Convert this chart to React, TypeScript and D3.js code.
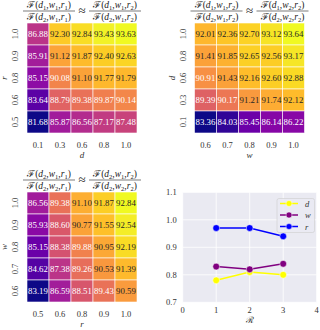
import React from 'react'
import * as d3 from 'd3'

// heatmap 1: rows r, cols d
const d1Cols = ['0.1', '0.3', '0.6', '0.8', '1.0']
const r1Rows = ['1.0', '0.9', '0.8', '0.6', '0.5']
const heat1 = [
  [86.88, 92.30, 92.84, 93.43, 93.63],
  [85.91, 91.12, 91.87, 92.40, 92.63],
  [85.15, 90.08, 91.10, 91.77, 91.79],
  [83.64, 88.79, 89.38, 89.87, 90.14],
  [81.68, 85.87, 86.56, 87.17, 87.48],
]
// heatmap 2: rows d, cols w
const w2Cols = ['0.6', '0.7', '0.8', '0.9', '1.0']
const d2Rows = ['1.0', '0.8', '0.6', '0.3', '0.1']
const heat2 = [
  [92.01, 92.36, 92.70, 93.12, 93.64],
  [91.41, 91.85, 92.65, 92.56, 93.17],
  [90.91, 91.43, 92.16, 92.60, 92.88],
  [89.39, 90.17, 91.21, 91.74, 92.12],
  [83.36, 84.03, 85.45, 86.14, 86.22],
]
// heatmap 3: rows w, cols r
const r3Cols = ['0.5', '0.6', '0.8', '0.9', '1.0']
const w3Rows = ['1.0', '0.9', '0.8', '0.7', '0.6']
const heat3 = [
  [86.56, 89.38, 91.10, 91.87, 92.84],
  [85.93, 88.60, 90.77, 91.55, 92.54],
  [85.15, 88.38, 89.88, 90.95, 92.19],
  [84.62, 87.38, 89.26, 90.53, 91.39],
  [83.19, 86.59, 88.51, 89.43, 90.59],
]
// line plot
const rounds = [1, 2, 3]
const dVals = [0.78, 0.81, 0.80]
const wVals = [0.83, 0.82, 0.84]
const rVals = [0.97, 0.97, 0.94]
const xTicks = [0, 1, 2, 3, 4]
const yTicks = [0.7, 0.8, 0.9, 1.0, 1.1]

const FONT = '"Liberation Serif", "DejaVu Serif", serif'
const TICK = '#333'

function lum(c: string) {
  const rgb = d3.rgb(c)
  const f = (v: number) => {
    v = v / 255
    return v <= 0.03928 ? v / 12.92 : Math.pow((v + 0.055) / 1.055, 2.4)
  }
  return 0.2126 * f(rgb.r) + 0.7152 * f(rgb.g) + 0.0722 * f(rgb.b)
}

// F(a_i, b_j, c_k) as svg text
function FTerm({x, y, args}: {x: number, y: number, args: string[]}) {
  const parts: any[] = []
  parts.push(<tspan key="F">ℱ(</tspan>)
  args.forEach((a, i) => {
    parts.push(<tspan key={'l' + i} fontStyle="italic">{a[0]}</tspan>)
    parts.push(<tspan key={'s' + i} fontSize={6.5} dy={2}>{a[1]}</tspan>)
    parts.push(<tspan key={'c' + i} dy={-2}>{i < args.length - 1 ? ',' : ')'}</tspan>)
  })
  return <text x={x} y={y} textAnchor="middle" fontFamily={FONT} fontSize={9.5} fill="#222">{parts}</text>
}

function Frac({cx, y, num, den}: {cx: number, y: number, num: string[], den: string[]}) {
  return (
    <g>
      <FTerm x={cx} y={y - 3} args={num} />
      <line x1={cx - 26} x2={cx + 26} y1={y} y2={y} stroke="#222" strokeWidth={0.6} />
      <FTerm x={cx} y={y + 8.5} args={den} />
    </g>
  )
}

function Title({cx, y, f}: {cx: number, y: number, f: string[][]}) {
  return (
    <g>
      <Frac cx={cx - 33} y={y} num={f[0]} den={f[1]} />
      <text x={cx} y={y + 4} textAnchor="middle" fontFamily={FONT} fontSize={13} fill="#222">≈</text>
      <Frac cx={cx + 33} y={y} num={f[2]} den={f[3]} />
    </g>
  )
}

function Heatmap(props: {left: number, top: number, data: number[][], cols: string[], rows: string[],
  xl: string, yl: string, f: string[][]}) {
  const {left, top, data, cols, rows, xl, yl, f} = props
  const size = 110
  const x = d3.scaleBand().domain(cols).range([left, left + size])
  const y = d3.scaleBand().domain(rows).range([top, top + size])
  const flat = data.flat()
  const color = d3.scaleSequential(d3.interpolatePlasma).domain([d3.min(flat)!, d3.max(flat)!])
  return (
    <g>
      <Title cx={left + size / 2} y={top - 12} f={f} />
      {data.map((row, i) => row.map((v, j) => {
        const c = color(v)
        return (
          <g key={i + '-' + j}>
            <rect x={x(cols[j])} y={y(rows[i])} width={x.bandwidth()} height={y.bandwidth()}
              fill={c} stroke="#fff" strokeWidth={0.6} />
            <text x={x(cols[j])! + x.bandwidth() / 2} y={y(rows[i])! + y.bandwidth() / 2 + 3}
              textAnchor="middle" fontFamily={FONT} fontSize={8.8}
              fill={lum(c) > 0.408 ? '#262626' : '#fff'}>{v.toFixed(2)}</text>
          </g>
        )
      }))}
      {cols.map(c => (
        <text key={c} x={x(c)! + x.bandwidth() / 2} y={top + size + 15} textAnchor="middle"
          fontFamily={FONT} fontSize={8.5} fill={TICK}>{c}</text>
      ))}
      {rows.map(r => {
        const cy = y(r)! + y.bandwidth() / 2
        return (
          <text key={r} transform={`translate(${left - 9},${cy}) rotate(-90)`} textAnchor="middle"
            fontFamily={FONT} fontSize={8.5} fill={TICK}>{r}</text>
        )
      })}
      <text x={left + size / 2} y={top + size + 25} textAnchor="middle" fontFamily={FONT}
        fontStyle="italic" fontSize={9} fill={TICK}>{xl}</text>
      <text transform={`translate(${left - 20},${top + size / 2}) rotate(-90)`} textAnchor="middle"
        fontFamily={FONT} fontStyle="italic" fontSize={9} fill={TICK}>{yl}</text>
    </g>
  )
}

function LinePlot() {
  const left = 182.7, right = 316.7, top = 192.3, bottom = 302.3
  const x = d3.scaleLinear().domain([0, 4]).range([left, right])
  const y = d3.scaleLinear().domain([0.7, 1.1]).range([bottom, top])
  const line = d3.line<number>().x((_, i) => x(rounds[i])).y(v => y(v))
  const series = [
    {name: 'd', vals: dVals, color: '#ffff00'},
    {name: 'w', vals: wVals, color: '#800080'},
    {name: 'r', vals: rVals, color: '#0000ff'},
  ]
  return (
    <g>
      <rect x={left} y={top} width={right - left} height={bottom - top} fill="#eaeaf2" />
      {xTicks.map(t => (
        <line key={'gx' + t} x1={x(t)} x2={x(t)} y1={top} y2={bottom} stroke="#fff" strokeWidth={0.8} />
      ))}
      {yTicks.map(t => (
        <line key={'gy' + t} x1={left} x2={right} y1={y(t)} y2={y(t)} stroke="#fff" strokeWidth={0.8} />
      ))}
      {series.map(s => (
        <g key={s.name}>
          <path d={line(s.vals)!} fill="none" stroke={s.color} strokeWidth={1.5} />
          {s.vals.map((v, i) => (
            <circle key={i} cx={x(rounds[i])} cy={y(v)} r={3.4} fill={s.color} stroke="#fff" strokeWidth={0.5} />
          ))}
        </g>
      ))}
      {xTicks.map(t => (
        <text key={'tx' + t} x={x(t)} y={bottom + 11} textAnchor="middle" fontFamily={FONT}
          fontSize={8.5} fill={TICK}>{t}</text>
      ))}
      {yTicks.map(t => (
        <text key={'ty' + t} x={left - 6} y={y(t) + 3} textAnchor="end" fontFamily={FONT}
          fontSize={8.5} fill={TICK}>{t.toFixed(1)}</text>
      ))}
      <text x={(left + right) / 2} y={bottom + 21} textAnchor="middle" fontFamily={FONT}
        fontSize={9} fill={TICK}>ℛ</text>
      <g>
        <rect x={277} y={198.5} width={37.5} height={34} rx={2} fill="#eaeaf2" fillOpacity={0.8}
          stroke="#ccc" strokeWidth={0.6} />
        {series.map((s, i) => {
          const ly = 203.5 + i * 11.5
          return (
            <g key={'lg' + s.name}>
              <line x1={280} x2={298} y1={ly} y2={ly} stroke={s.color} strokeWidth={1.5} />
              <circle cx={289} cy={ly} r={3} fill={s.color} stroke="#fff" strokeWidth={0.5} />
              <text x={305} y={ly + 3} fontFamily={FONT} fontStyle="italic" fontSize={8.5}
                fill={TICK}>{s.name}</text>
            </g>
          )
        })}
      </g>
    </g>
  )
}

export default function App() {
  return (
    <svg width={320} height={330} style={{position: 'absolute', left: 0, top: 0, background: '#fff'}}>
      <Heatmap left={27} top={23} data={heat1} cols={d1Cols} rows={r1Rows} xl="d" yl="r"
        f={[['d1', 'w1', 'r1'], ['d2', 'w1', 'r1'], ['d1', 'w1', 'r2'], ['d2', 'w1', 'r2']]} />
      <Heatmap left={194.5} top={23} data={heat2} cols={w2Cols} rows={d2Rows} xl="w" yl="d"
        f={[['d1', 'w1', 'r2'], ['d2', 'w1', 'r2'], ['d1', 'w2', 'r2'], ['d2', 'w2', 'r2']]} />
      <Heatmap left={27} top={192} data={heat3} cols={r3Cols} rows={w3Rows} xl="r" yl="w"
        f={[['d2', 'w1', 'r1'], ['d2', 'w2', 'r1'], ['d2', 'w1', 'r2'], ['d2', 'w2', 'r2']]} />
      <LinePlot />
    </svg>
  )
}
